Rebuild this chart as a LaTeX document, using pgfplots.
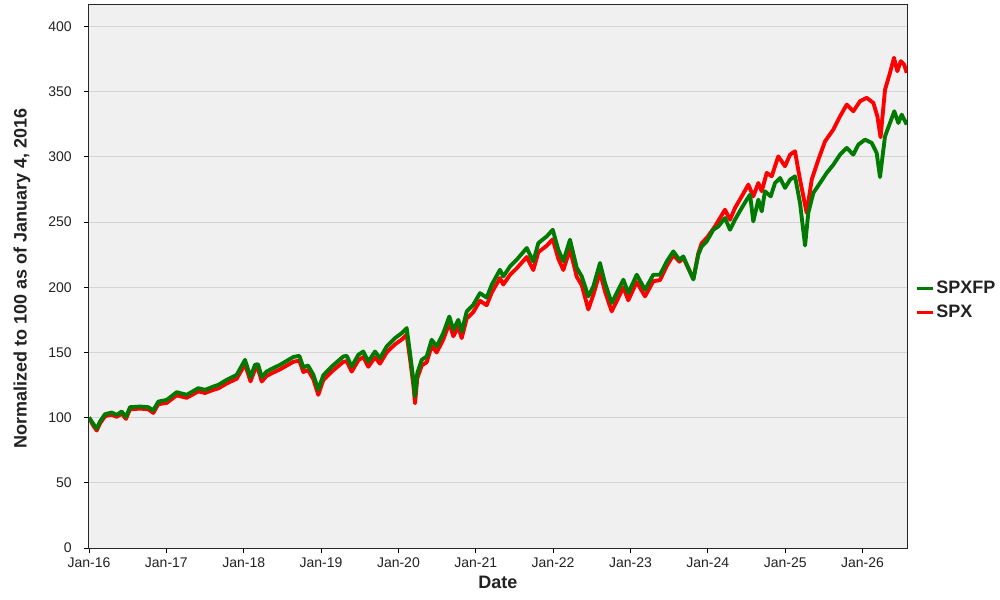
\documentclass[border=0pt]{standalone}
\usepackage{pgfplots}
\usepackage{pgfplotstable}
\pgfplotsset{compat=1.18}
\usepackage{fontspec}
\setmainfont{Liberation Sans}
\definecolor{spxfp}{RGB}{0,122,0}
\definecolor{spx}{RGB}{255,0,0}
\definecolor{bg}{RGB}{240,240,240}
\definecolor{gridc}{RGB}{212,212,212}
\definecolor{txt}{RGB}{34,34,34}

\pgfplotstableread{
t v
0.000 100.0
0.013 99.0
0.056 95.2
0.100 91.5
0.142 97.0
0.207 102.6
0.293 103.9
0.358 102.1
0.423 104.7
0.478 100.5
0.530 108.0
0.659 108.5
0.767 108.0
0.831 105.5
0.896 112.3
1.005 113.6
1.134 119.5
1.263 117.5
1.413 122.6
1.500 121.3
1.607 123.8
1.672 125.1
1.780 129.0
1.909 132.8
2.017 144.3
2.088 131.0
2.146 140.5
2.185 141.0
2.233 131.0
2.297 135.4
2.383 138.0
2.469 140.5
2.556 143.5
2.641 146.5
2.719 147.4
2.771 138.5
2.831 140.0
2.900 133.0
2.964 121.5
3.029 132.5
3.138 139.2
3.288 146.9
3.332 147.4
3.396 139.2
3.482 148.2
3.546 150.7
3.611 143.0
3.697 150.7
3.762 145.6
3.849 154.6
3.956 161.0
4.043 164.8
4.107 168.7
4.150 149.5
4.193 129.0
4.215 116.2
4.244 134.1
4.301 144.3
4.366 146.9
4.430 159.7
4.495 154.6
4.580 164.8
4.658 177.6
4.710 167.4
4.774 175.0
4.818 166.0
4.883 181.4
4.968 186.6
5.055 195.5
5.141 192.0
5.206 201.9
5.313 213.4
5.356 208.3
5.443 216.0
5.529 221.1
5.659 230.1
5.744 219.8
5.809 233.9
5.917 239.0
5.995 244.1
6.067 228.8
6.132 220.0
6.218 236.5
6.305 215.0
6.370 208.3
6.455 193.0
6.520 200.6
6.606 218.6
6.671 203.2
6.757 187.9
6.865 200.6
6.908 205.8
6.972 195.5
7.081 209.6
7.188 198.1
7.295 209.6
7.382 209.6
7.469 219.8
7.554 227.5
7.632 221.1
7.683 223.6
7.748 214.7
7.813 206.0
7.877 225.0
7.921 231.3
7.986 235.2
8.071 244.1
8.136 246.7
8.222 253.1
8.287 244.1
8.351 251.8
8.438 260.8
8.503 267.2
8.546 271.0
8.588 250.5
8.653 267.2
8.697 258.2
8.739 273.6
8.813 269.7
8.869 280.0
8.934 283.8
8.998 276.2
9.063 282.5
9.127 285.1
9.192 264.6
9.257 232.0
9.299 257.0
9.364 272.3
9.451 280.0
9.537 287.7
9.623 294.0
9.709 301.7
9.796 306.9
9.881 301.7
9.946 309.4
10.032 313.2
10.119 310.7
10.183 303.0
10.226 284.5
10.291 315.8
10.355 326.0
10.411 335.0
10.463 326.0
10.507 332.4
10.572 324.8
}\spxfptab

\pgfplotstableread{
t v
0.000 100.0
0.013 98.5
0.056 93.8
0.100 90.1
0.142 95.5
0.207 101.1
0.293 102.3
0.358 100.6
0.423 103.1
0.478 99.0
0.530 106.4
0.659 106.9
0.767 106.4
0.831 103.6
0.896 110.3
1.005 111.3
1.134 117.1
1.263 115.2
1.413 120.1
1.500 118.9
1.607 121.3
1.672 122.4
1.780 126.2
1.909 129.8
2.017 141.0
2.088 127.8
2.146 137.0
2.185 137.5
2.233 127.7
2.297 132.0
2.383 134.6
2.469 137.0
2.556 139.9
2.641 142.8
2.719 143.7
2.771 135.0
2.831 136.5
2.900 129.5
2.964 117.5
3.029 128.8
3.138 135.3
3.288 142.8
3.332 143.3
3.396 135.3
3.482 144.0
3.546 146.5
3.611 139.0
3.697 146.3
3.762 141.4
3.849 150.1
3.956 156.2
4.043 159.9
4.107 163.6
4.150 145.0
4.193 125.0
4.215 111.0
4.244 130.1
4.301 140.0
4.366 142.5
4.430 154.9
4.495 150.0
4.580 159.9
4.658 172.3
4.710 162.4
4.774 169.8
4.818 161.0
4.883 176.0
4.968 181.0
5.055 189.6
5.141 186.2
5.206 195.8
5.313 207.0
5.356 202.1
5.443 209.5
5.529 214.5
5.659 223.2
5.744 213.2
5.809 226.9
5.917 231.8
5.995 236.8
6.067 221.9
6.132 213.2
6.218 229.2
6.305 208.1
6.370 201.6
6.455 183.0
6.520 194.2
6.606 211.6
6.671 196.7
6.757 181.5
6.865 194.6
6.908 199.8
6.972 190.0
7.081 204.0
7.188 193.0
7.295 204.6
7.382 205.5
7.469 216.3
7.554 224.8
7.632 219.6
7.683 222.7
7.748 214.5
7.813 206.5
7.877 226.1
7.921 233.9
7.986 237.8
8.093 246.7
8.222 259.5
8.287 251.8
8.351 260.8
8.438 269.7
8.524 278.7
8.588 269.7
8.653 280.0
8.697 273.6
8.761 287.7
8.826 285.1
8.911 300.4
8.998 292.8
9.063 301.7
9.127 304.3
9.192 282.5
9.278 257.0
9.343 282.5
9.429 297.9
9.516 312.0
9.623 321.0
9.709 331.1
9.796 340.1
9.881 335.0
9.968 342.7
10.054 345.3
10.140 341.4
10.192 331.1
10.233 315.0
10.291 351.6
10.355 364.4
10.407 376.0
10.450 365.7
10.494 373.4
10.537 370.9
10.572 364.4
}\spxtab

\begin{document}
\begin{tikzpicture}
\begin{axis}[
  scale only axis,
  width=613.5pt, height=407.25pt,
  xmin=0, xmax=10.575, ymin=0, ymax=416.5,
  axis background/.style={fill=bg},
  xtick={0,1,2,3,4,5,6,7,8,9,10},
  xticklabels={Jan-16,Jan-17,Jan-18,Jan-19,Jan-20,Jan-21,Jan-22,Jan-23,Jan-24,Jan-25,Jan-26},
  ytick={0,50,100,150,200,250,300,350,400},
  ymajorgrids, grid style={gridc, line width=0.6pt},
  tick align=outside, major tick length=3.5pt,
  tick style={black, line width=0.6pt},
  xtick pos=lower, ytick pos=left,
  axis line style={black!85, line width=0.75pt},
  /pgf/number format/assume math mode=true,
  ticklabel style={font=\fontsize{10.5}{12}\selectfont, text=txt},
  yticklabel style={xshift=-6pt},
  xlabel={Date},
  ylabel={Normalized to 100 as of January 4, 2016},
  label style={font=\bfseries\fontsize{13.5}{16}\selectfont, text=txt},
  xlabel style={at={(axis description cs:0.5,0)}, anchor=center, yshift=-25.5pt},
  ylabel style={at={(axis description cs:-0.0819,0.497)}, anchor=center},
  legend style={at={(1,0.4558)}, anchor=west, xshift=5pt, draw=none, fill=none,
    font=\bfseries\fontsize{13.5}{16}\selectfont, text=txt, row sep=4pt,
    inner sep=1pt, nodes={inner sep=1.5pt}},
  legend cell align=left,
  legend image code/.code={\draw[#1, line width=2.4pt] (0pt,0pt) -- (12pt,0pt);},
  reverse legend,
]
\addplot[spx, line width=2.9pt, line join=round] table[x=t, y=v] {\spxtab};
\addlegendentry{SPX}
\addplot[spxfp, line width=2.9pt, line join=round] table[x=t, y=v] {\spxfptab};
\addlegendentry{SPXFP}
\end{axis}
\pgfresetboundingbox
\path[use as bounding box] (-66.75pt,-39pt) rectangle (683.25pt,411pt);
\end{tikzpicture}
\end{document}
